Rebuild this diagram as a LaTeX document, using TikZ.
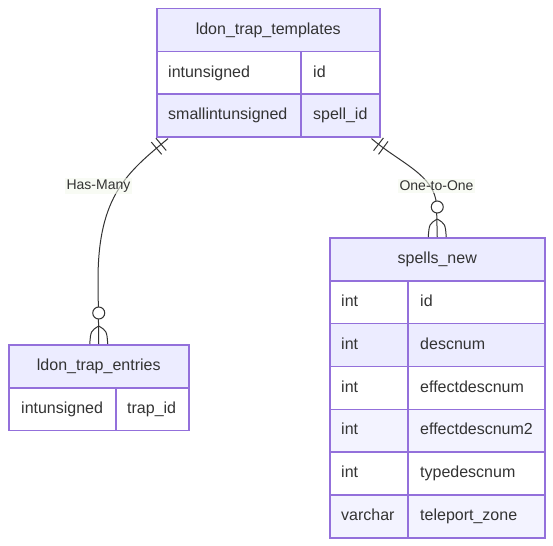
\documentclass[tikz,border=0pt]{standalone}
\usepackage{fontspec}
\setmainfont{Liberation Sans}
\usetikzlibrary{decorations.markings}
\definecolor{ebord}{HTML}{9370DB}
\definecolor{ehead}{HTML}{ECECFF}
\definecolor{eeven}{HTML}{ECECFF}
\definecolor{eeven2}{HTML}{F3F3FF}
\definecolor{etext}{HTML}{333333}
\definecolor{lblbg}{HTML}{F4F9EC}
\begin{document}
\begin{tikzpicture}[x=1pt,y=-1pt,
  hd/.style={draw=ebord, line width=1.5pt, fill=ehead, inner sep=0pt, anchor=north west,
    minimum height=43pt, text=etext, font=\fontsize{16}{19}\selectfont, text height=12pt, text depth=3.5pt},
  rw/.style={draw=ebord, line width=1.5pt, inner sep=0pt, anchor=north west, minimum height=#1},
  rw/.default=42.6pt,
  tx/.style={anchor=west, text=etext, font=\fontsize{16}{19}\selectfont, inner sep=0pt,
    text height=12pt, text depth=3.5pt},
  rel/.style={draw=etext, line width=1pt},
  bar/.style={postaction={decorate, decoration={markings,
     mark=at position 9pt with {\draw[etext, line width=1pt] (0,-8pt) -- (0,8pt);},
     mark=at position 15pt with {\draw[etext, line width=1pt] (0,-8pt) -- (0,8pt);}}}},
  lbl/.style={fill=lblbg, fill opacity=0.6, text opacity=1, text=etext, inner sep=2pt,
    font=\fontsize{14}{17}\selectfont},
  ring/.style={draw=etext, line width=1pt, fill=white},
]
\useasboundingbox (0,0) rectangle (553,545);

% ---------- ldon_trap_templates ----------
\node[hd, minimum width=223pt] (tt) at (156,8) {ldon\_trap\_templates};
\node[rw, minimum width=144pt, fill=white] (t1a) at (156,51) {};
\node[rw, minimum width=79pt, fill=white] (t1b) at (300,51) {};
\node[rw, minimum width=144pt, fill=eeven] (t2a) at (156,93.5) {};
\node[rw, minimum width=79pt, fill=eeven] (t2b) at (300,93.5) {};
\node[tx] (t1at) at ([xshift=12pt]t1a.west) {intunsigned};
\node[tx] (t1bt) at ([xshift=13pt]t1b.west) {id};
\node[tx] (t2at) at ([xshift=12pt]t2a.west) {smallintunsigned};
\node[tx] (t2bt) at ([xshift=13pt]t2b.west) {spell\_id};

% ---------- ldon_trap_entries ----------
\node[hd, minimum width=180pt] (le) at (8,344) {ldon\_trap\_entries};
\node[rw, minimum width=107pt, fill=white] (l1a) at (8,387) {};
\node[rw, minimum width=73pt, fill=white] (l1b) at (115,387) {};
\node[tx] (l1at) at ([xshift=13pt]l1a.west) {intunsigned};
\node[tx] (l1bt) at ([xshift=12pt]l1b.west) {trap\_id};

% ---------- spells_new ----------
\node[hd, minimum width=215pt] (sn) at (329,237) {spells\_new};
\node[rw=42.83pt, minimum width=78pt, fill=white] (s1a) at (329,280) {};
\node[rw=42.83pt, minimum width=137pt, fill=white] (s1b) at (407,280) {};
\node[rw=42.83pt, minimum width=78pt, fill=eeven] (s2a) at (329,322.83) {};
\node[rw=42.83pt, minimum width=137pt, fill=eeven] (s2b) at (407,322.83) {};
\node[rw=42.83pt, minimum width=78pt, fill=white] (s3a) at (329,365.67) {};
\node[rw=42.83pt, minimum width=137pt, fill=white] (s3b) at (407,365.67) {};
\node[rw=42.83pt, minimum width=78pt, fill=eeven2] (s4a) at (329,408.5) {};
\node[rw=42.83pt, minimum width=137pt, fill=eeven2] (s4b) at (407,408.5) {};
\node[rw=42.83pt, minimum width=78pt, fill=white] (s5a) at (329,451.33) {};
\node[rw=42.83pt, minimum width=137pt, fill=white] (s5b) at (407,451.33) {};
\node[rw=42.83pt, minimum width=78pt, fill=eeven2] (s6a) at (329,494.17) {};
\node[rw=42.83pt, minimum width=137pt, fill=eeven2] (s6b) at (407,494.17) {};
\node[tx] (s1at) at ([xshift=12pt]s1a.west) {int};
\node[tx] (s1bt) at ([xshift=13pt]s1b.west) {id};
\node[tx] (s2at) at ([xshift=12pt]s2a.west) {int};
\node[tx] (s2bt) at ([xshift=13pt]s2b.west) {descnum};
\node[tx] (s3at) at ([xshift=12pt]s3a.west) {int};
\node[tx] (s3bt) at ([xshift=13pt]s3b.west) {effectdescnum};
\node[tx] (s4at) at ([xshift=12pt]s4a.west) {int};
\node[tx] (s4bt) at ([xshift=13pt]s4b.west) {effectdescnum2};
\node[tx] (s5at) at ([xshift=12pt]s5a.west) {int};
\node[tx] (s5bt) at ([xshift=13pt]s5b.west) {typedescnum};
\node[tx] (s6at) at ([xshift=12pt]s6a.west) {varchar};
\node[tx] (s6bt) at ([xshift=13pt]s6b.west) {teleport\_zone};

% ---------- relationships ----------
\coordinate (e1s) at ([xshift=12pt,yshift=-1pt]t2a.south west);
\coordinate (e2s) at ([xshift=-9pt,yshift=-1pt]t2b.south east);

\path[rel, bar] (e1s) .. controls (128,172) and (98,195) .. (98,280) -- (le.north);
\path[rel, bar] (e2s) .. controls (400,163) and (435,175) .. (436.5,205) -- (sn.north);

% zero-or-more ends
\draw[rel] ([xshift=-9pt]le.north) .. controls ([xshift=-8pt,yshift=13pt]le.north) .. ([yshift=18pt]le.north);
\draw[rel] ([xshift=9pt]le.north) .. controls ([xshift=8pt,yshift=13pt]le.north) .. ([yshift=18pt]le.north);
\draw[ring] ([yshift=31pt]le.north) circle[radius=6pt];

\draw[rel] ([xshift=-9pt]sn.north) .. controls ([xshift=-8pt,yshift=13pt]sn.north) .. ([yshift=18pt]sn.north);
\draw[rel] ([xshift=9pt]sn.north) .. controls ([xshift=8pt,yshift=13pt]sn.north) .. ([yshift=18pt]sn.north);
\draw[ring] ([yshift=30pt]sn.north) circle[radius=6pt];

\node[lbl] (lab1) at (98.5,186) {Has-Many};
\node[lbl] (lab2) at (436.5,186) {One-to-One};
\end{tikzpicture}
\end{document}
